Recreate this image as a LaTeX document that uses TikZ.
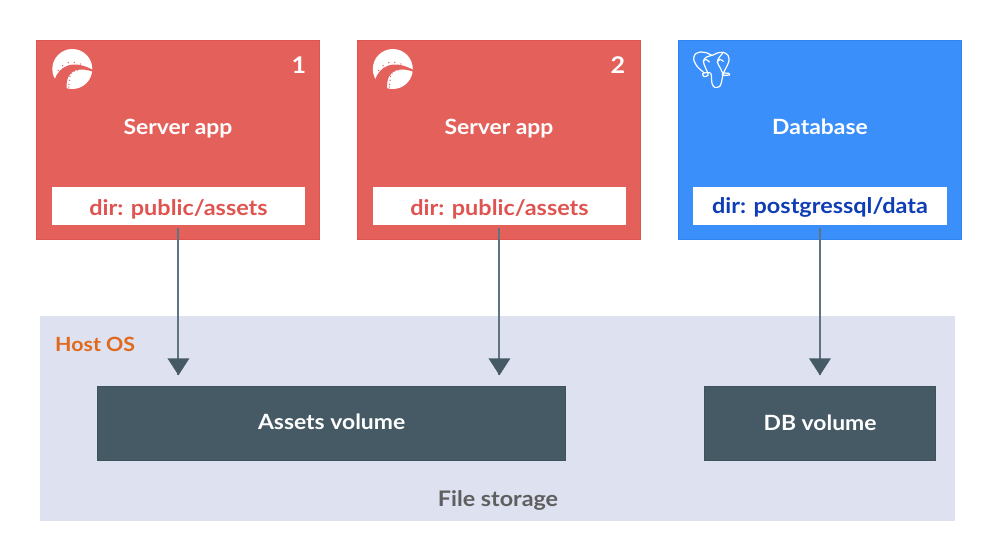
\documentclass[tikz,border=0pt]{standalone}
\usepackage{fontspec}
\setmainfont{Lato}[FakeStretch=1.09]
\definecolor{redbox}{HTML}{E4615B}
\definecolor{redline}{HTML}{DF5450}
\definecolor{bluebox}{HTML}{3A8FFB}
\definecolor{blueline}{HTML}{2F84F2}
\definecolor{bluetext}{HTML}{0F3DB5}
\definecolor{hostbg}{HTML}{DDE1F0}
\definecolor{volbox}{HTML}{465A65}
\definecolor{linecol}{HTML}{5F7482}
\definecolor{hostcol}{HTML}{E0691C}
\definecolor{filecol}{HTML}{5F5F5F}
\newcommand{\txt}[1]{\fontsize{#1}{#1}\selectfont\bfseries}
\newcommand{\logo}[2]{%
\begin{scope}[shift={(#1,#2)},x=0.3333pt,y=-0.3333pt]
\fill[white] (0,0) circle[radius=60];
\fill[redbox] (-54,34) .. controls (-40,-8) and (0,-32) .. (64,4) -- (64,9)
  .. controls (30,-4) and (-22,-8) .. (-17,62) -- (-40,72) -- cycle;
\foreach \p in {(-42,4),(-29,-10),(-12,-19),(6,-20),(24,-15)}{\fill[redbox] \p circle[radius=2.2];}
\foreach \p in {(-8,34),(-7,22),(-2,12),(6,6),(16,3),(-10,46),(-10,54)}{\fill[redbox] \p circle[radius=2.2];}
\end{scope}}
\tikzset{
  appbox/.style={draw=#1line,fill=#1box,line width=0.8pt,inner sep=0pt,anchor=north west,minimum width=282.8pt,minimum height=198.8pt},
  dirbox/.style={fill=white,inner sep=0pt,anchor=north west,minimum width=252.5pt,minimum height=38pt,text depth=0pt,font=\txt{21.5}},
  volume/.style={fill=volbox,draw=volbox!90!black,line width=0.6pt,inner sep=0pt,anchor=north west,minimum height=74pt,text=white,text depth=0pt,font=\txt{21}},
  title/.style={text=white,font=\txt{21},inner sep=0pt,anchor=base},
  link/.style={draw=linecol,line width=2pt,shorten <=3pt,shorten >=11pt}
}
\begin{document}
\begin{tikzpicture}[x=1pt,y=-1pt]
\useasboundingbox (0,0) rectangle (1000,558);
\fill[white] (0,0) rectangle (1000,558);
\node[fill=hostbg,inner sep=0pt,anchor=north west,minimum width=915pt,minimum height=205pt] (host) at (40,316) {};
\node[appbox=red] (s1) at (36.4,40.4) {};
\node[appbox=red] (s2) at (357.4,40.4) {};
\node[appbox=blue] (db) at (678.4,40.4) {};
\node[dirbox,text=redline,text height=19pt] (d1) at (52,187) {dir: public/assets};
\node[dirbox,text=redline,text height=19pt] (d2) at (373,187) {dir: public/assets};
\node[dirbox,minimum width=253.5pt,text=bluetext,text height=14pt] (d3) at (693,187) {dir: postgressql/data};
\node[title] (t1) at (178,134) {Server app};
\node[title] (t2) at (499,134) {Server app};
\node[title] (t3) at (820,134) {Database};
\node[title,font=\txt{23}] (n1) at (299,73) {1};
\node[title,font=\txt{23}] (n2) at (618,73) {2};
\node[volume,minimum width=468pt,text height=12pt] (av) at (97.3,386.3) {Assets volume};
\node[volume,minimum width=231pt,text height=14pt] (dv) at (704.3,386.3) {DB volume};
\node[text=hostcol,font=\txt{19.6},inner sep=0pt,anchor=base west] (ho) at (55,351) {Host OS};
\node[text=filecol,font=\txt{21.4},inner sep=0pt,anchor=base] (fs) at (498,506.5) {File storage};
\logo{72.3}{69}
\logo{392.8}{69}
\begin{scope}[shift={(680,42)},x=0.3333pt,y=-0.3333pt,white,line width=1.2pt,line join=round,line cap=round]
\draw plot[smooth] coordinates {(72,92) (52,74) (41,52) (46,36) (62,30) (82,33) (96,40) (112,33) (130,31) (144,40) (147,56) (140,74) (130,94) (124,122) (118,134) (104,136) (96,124) (94,100) (92,94)};
\draw plot[smooth] coordinates {(96,40) (78,46) (70,58) (76,76) (82,90) (84,100) (72,104) (68,96) (76,92) (90,92)};
\draw plot[smooth] coordinates {(130,31) (118,46) (112,60) (122,80) (128,92) (146,94) (148,99) (132,100) (126,96)};
\draw plot[smooth] coordinates {(112,60) (120,52) (130,58)};
\draw plot[smooth] coordinates {(70,58) (78,52) (88,60)};
\end{scope}
\foreach \a/\b in {d1/av,d2/av,d3/dv}{
  \coordinate (tip\a) at (\a.south |- \b.north);
  \draw[link] (\a.south) -- (tip\a);
  \fill[volbox] ([shift={(-11,-28)}]tip\a) -- ([shift={(11,-28)}]tip\a) -- ([shift={(0,-11)}]tip\a) -- cycle;
}
\end{tikzpicture}
\end{document}
